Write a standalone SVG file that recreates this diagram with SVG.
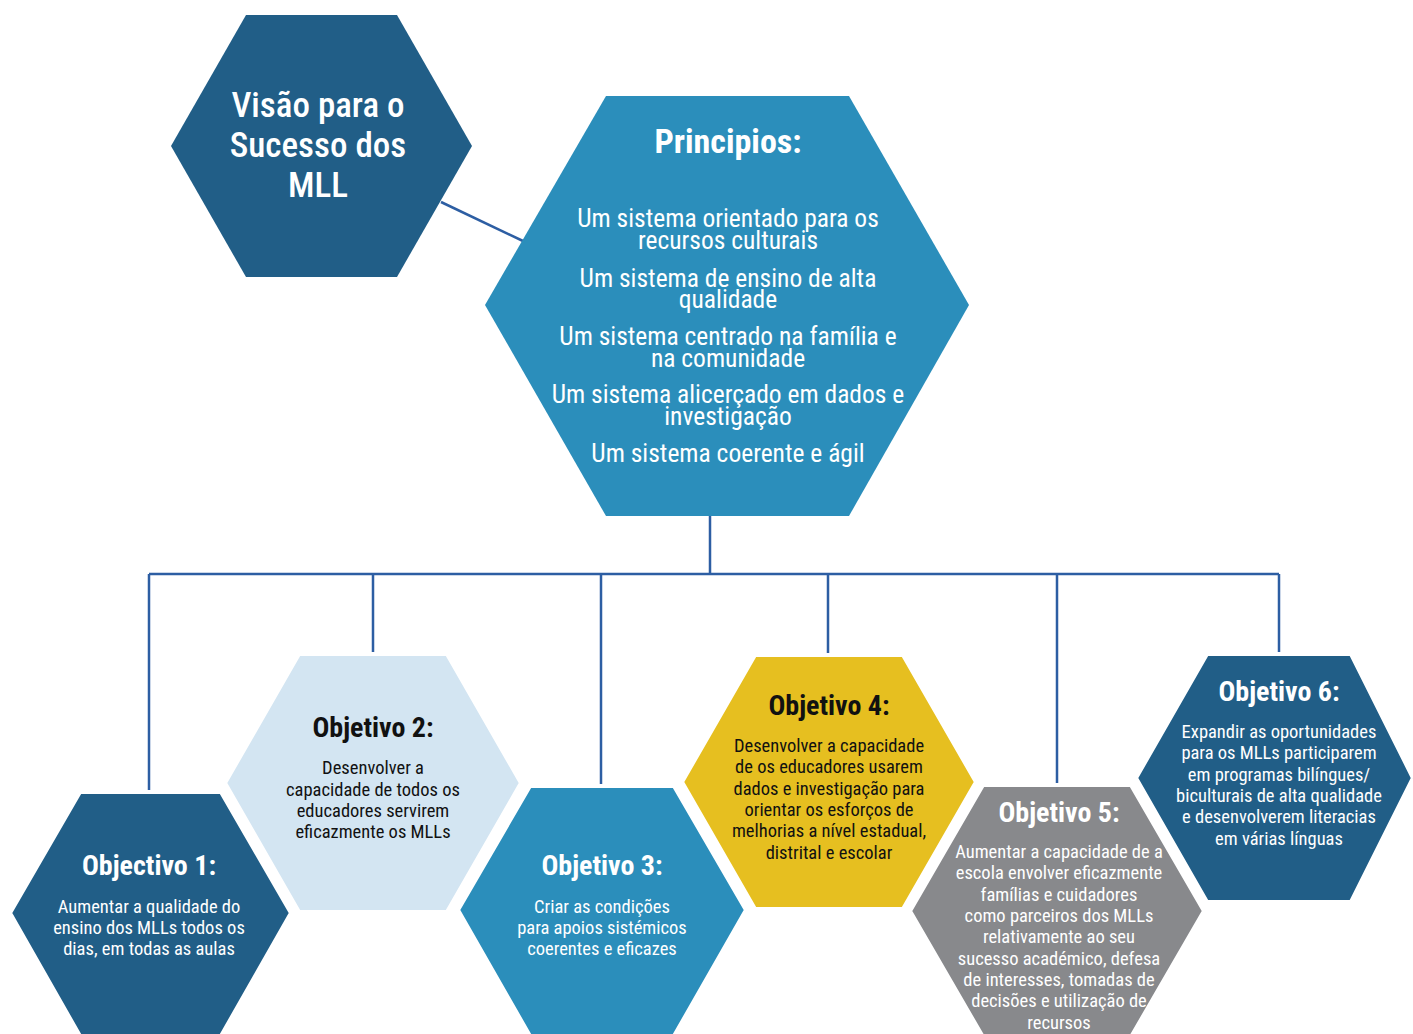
<svg xmlns="http://www.w3.org/2000/svg" width="1413" height="1034" viewBox="0 0 1413 1034">
<style>
.t{font-family:"Roboto Condensed","Liberation Sans Narrow","Roboto",sans-serif;font-stretch:condensed;text-anchor:middle}
.w{fill:#ffffff}
.d{fill:#111111}
.head{font-size:28px;font-weight:700}
.body{font-size:18.5px}
.pr{font-size:25.5px}
.hx{stroke:#ffffff;stroke-width:4}
.c{stroke:#2d5ea3;stroke-width:2.5;fill:none}
</style>
<rect width="1413" height="1034" fill="#ffffff"/>
<g id="connectors">
<path class="c" d="M441 202 L523 241"/>
<path class="c" d="M710 516 V574 M149 574 H1279 M149 574 V792 M373 574 V654 M601 574 V786 M828 574 V655 M1057 574 V785 M1279 574 V654"/>
</g>
<g id="vision">
<polygon points="246,15 397,15 472,146 397,277 246,277 171,146" fill="#215e87"/>
<text class="t w" font-size="35" font-weight="500"><tspan x="318" y="117">Visão para o</tspan><tspan x="318" y="157">Sucesso dos</tspan><tspan x="318" y="197">MLL</tspan></text>
</g>
<g id="principios">
<polygon points="606,96 849,96 969,305 849,516 606,516 485,305" fill="#2b8ebb"/>
<text class="t w" x="728" y="153" font-size="34" font-weight="700">Principios:</text>
<text class="t w pr"><tspan x="728" y="227">Um sistema orientado para os</tspan><tspan x="728" y="249">recursos culturais</tspan><tspan x="728" y="287">Um sistema de ensino de alta</tspan><tspan x="728" y="308">qualidade</tspan><tspan x="728" y="345">Um sistema centrado na família e</tspan><tspan x="728" y="367">na comunidade</tspan><tspan x="728" y="403">Um sistema alicerçado em dados e</tspan><tspan x="728" y="425">investigação</tspan><tspan x="728" y="462">Um sistema coerente e ágil</tspan></text>
</g>
<g id="obj2">
<polygon class="hx" points="299,654 447,654 521,783 447,912 299,912 225,783" fill="#d3e5f2"/>
<text class="t d head" x="373" y="737">Objetivo 2:</text>
<text class="t d body"><tspan x="373" y="774">Desenvolver a</tspan><tspan x="373" y="796">capacidade de todos os</tspan><tspan x="373" y="817">educadores servirem</tspan><tspan x="373" y="838">eficazmente os MLLs</tspan></text>
</g>
<g id="obj4">
<polygon class="hx" points="755,655 903,655 976,782 903,909 755,909 682,782" fill="#e6bf20"/>
<text class="t d head" x="829" y="715">Objetivo 4:</text>
<text class="t d body"><tspan x="829" y="752">Desenvolver a capacidade</tspan><tspan x="829" y="773">de os educadores usarem</tspan><tspan x="829" y="795">dados e investigação para</tspan><tspan x="829" y="816">orientar os esforços de</tspan><tspan x="829" y="837">melhorias a nível estadual,</tspan><tspan x="829" y="859">distrital e escolar</tspan></text>
</g>
<g id="obj6">
<polygon class="hx" points="1207,654 1351,654 1413,778 1351,902 1207,902 1136,778" fill="#215e87"/>
<text class="t w head" x="1279" y="701">Objetivo 6:</text>
<text class="t w body"><tspan x="1279" y="738">Expandir as oportunidades</tspan><tspan x="1279" y="759">para os MLLs participarem</tspan><tspan x="1279" y="781">em programas bilíngues/</tspan><tspan x="1279" y="802">biculturais de alta qualidade</tspan><tspan x="1279" y="823">e desenvolverem literacias</tspan><tspan x="1279" y="845">em várias línguas</tspan></text>
</g>
<g id="obj1">
<polygon class="hx" points="80,792 221,792 291,913 221,1036 80,1036 10,913" fill="#215e87"/>
<text class="t w head" x="149" y="875">Objectivo 1:</text>
<text class="t w body"><tspan x="149" y="913">Aumentar a qualidade do</tspan><tspan x="149" y="934">ensino dos MLLs todos os</tspan><tspan x="149" y="955">dias, em todas as aulas</tspan></text>
</g>
<g id="obj3">
<polygon class="hx" points="530,786 674,786 746,910 674,1036 530,1036 458,910" fill="#2b8ebb"/>
<text class="t w head" x="602" y="875">Objetivo 3:</text>
<text class="t w body"><tspan x="602" y="913">Criar as condições</tspan><tspan x="602" y="934">para apoios sistémicos</tspan><tspan x="602" y="955">coerentes e eficazes</tspan></text>
</g>
<g id="obj5">
<polygon class="hx" points="983,785 1131,785 1204,911 1131,1037 983,1037 910,911" fill="#88898c"/>
<text class="t w head" x="1059" y="822">Objetivo 5:</text>
<text class="t w body"><tspan x="1059" y="858">Aumentar a capacidade de a</tspan><tspan x="1059" y="879">escola envolver eficazmente</tspan><tspan x="1059" y="901">famílias e cuidadores</tspan><tspan x="1059" y="922">como parceiros dos MLLs</tspan><tspan x="1059" y="943">relativamente ao seu</tspan><tspan x="1059" y="965">sucesso académico, defesa</tspan><tspan x="1059" y="986">de interesses, tomadas de</tspan><tspan x="1059" y="1007">decisões e utilização de</tspan><tspan x="1059" y="1029">recursos</tspan></text>
</g>
</svg>
